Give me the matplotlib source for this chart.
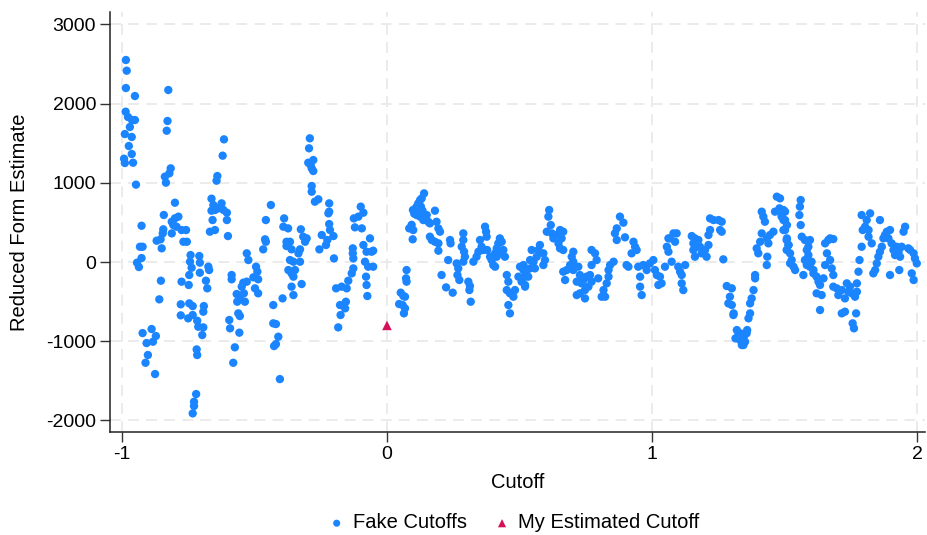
import matplotlib
matplotlib.use('Agg')
import matplotlib.pyplot as plt

# Fake cutoff placebo estimates (cutoff, reduced-form estimate)
fake_cutoffs = [
    (-0.985,2551),(-0.982,2416),(-0.985,2197),(-0.951,2096),(-0.986,1898),(-0.977,1831),(-0.962,1793),(-0.951,1793),(-0.970,1705),(-0.963,1579),(-0.989,1616),(-0.974,1465),(-0.963,1364),(-0.992,1305),(-0.989,1250),(-0.958,1254),(-0.947,977),
    (-0.926,458),(-0.932,193),(-0.922,193),(-0.926,50),(-0.943,-8),(-0.936,-63),(-0.922,-897),(-0.888,-846),(-0.907,-1023),(-0.883,-1006),(-0.872,-934),(-0.902,-1174),(-0.911,-1272),(-0.875,-1414),
    (-0.825,2172),(-0.828,1781),(-0.831,1658),(-0.816,1183),(-0.821,1120),(-0.838,1078),(-0.834,1002),(-0.800,749),(-0.842,594),(-0.844,413),(-0.846,362),(-0.854,287),(-0.869,269),(-0.850,173),
    (-0.812,509),(-0.800,552),(-0.787,573),(-0.806,467),(-0.794,446),(-0.812,362),(-0.775,404),(-0.758,404),(-0.768,256),(-0.755,256),(-0.853,-236),(-0.859,-471),
    (-0.741,88),(-0.708,76),(-0.743,4),(-0.706,-8),(-0.737,-72),(-0.706,-135),(-0.674,-59),(-0.671,-101),(-0.746,-164),(-0.775,-248),(-0.748,-290),(-0.683,-236),(-0.678,-332),
    (-0.778,-534),(-0.746,-522),(-0.733,-556),(-0.778,-673),(-0.750,-711),(-0.733,-669),(-0.716,-741),(-0.712,-817),(-0.691,-556),(-0.693,-627),(-0.693,-825),(-0.697,-922),(-0.718,-1103),(-0.716,-1174),(-0.720,-1667),(-0.728,-1764),(-0.728,-1818),(-0.733,-1911),
    (-0.615,1549),(-0.620,1343),(-0.640,1086),(-0.643,1027),(-0.662,800),(-0.655,720),(-0.649,657),(-0.662,648),(-0.624,741),(-0.637,678),(-0.617,657),(-0.604,623),(-0.604,530),(-0.600,328),(-0.658,530),(-0.668,383),(-0.649,404),
    (-0.529,110),(-0.523,25),(-0.529,-248),(-0.542,-261),(-0.586,-164),(-0.586,-218),(-0.548,-311),(-0.540,-395),(-0.567,-404),(-0.555,-459),(-0.565,-501),(-0.536,-501),(-0.561,-648),(-0.555,-682),(-0.595,-732),(-0.592,-837),(-0.557,-892),(-0.574,-1077),(-0.580,-1272),
    (-0.494,-59),(-0.489,-122),(-0.504,-193),(-0.486,-218),(-0.498,-332),(-0.486,-395),(-0.457,530),(-0.460,287),(-0.457,256),(-0.467,160),(-0.438,720),
    (-0.429,-543),(-0.429,-774),(-0.419,-783),(-0.410,-943),(-0.419,-1036),(-0.426,-1061),(-0.404,-1478),(-0.394,-459),
    (-0.388,551),(-0.391,446),(-0.373,425),(-0.379,256),(-0.366,256),(-0.360,160),(-0.379,202),(-0.366,25),(-0.353,4),(-0.372,-101),(-0.360,-143),(-0.347,-101),(-0.353,-185),(-0.360,-311),(-0.353,-417),(-0.322,-278),(-0.328,160),(-0.328,4),(-0.334,110),(-0.325,413),(-0.316,320),(-0.303,299),(-0.309,256),
    (-0.291,1562),(-0.294,1436),(-0.297,1254),(-0.288,1225),(-0.278,1288),(-0.284,1183),(-0.278,1149),(-0.284,960),(-0.284,888),(-0.272,762),(-0.259,792),
    (-0.218,741),(-0.218,636),(-0.221,615),(-0.218,480),(-0.215,404),(-0.246,341),(-0.225,278),(-0.230,215),(-0.202,328),(-0.255,160),(-0.200,46),
    (-0.192,-332),(-0.171,-311),(-0.152,-332),(-0.177,-543),(-0.155,-501),(-0.158,-585),(-0.175,-669),(-0.184,-825),
    (-0.146,-236),(-0.133,-143),(-0.127,-80),(-0.127,46),(-0.129,110),(-0.129,173),(-0.121,438),(-0.125,551),(-0.108,573),(-0.099,699),(-0.089,623),(-0.095,425),
    (-0.089,215),(-0.077,130),(-0.064,299),(-0.058,130),(-0.052,143),(-0.083,4),(-0.071,-59),(-0.052,-59),(-0.079,-185),(-0.077,-290),(-0.074,-429),
    (0.074,-101),(0.072,-206),(0.074,-248),(0.052,-387),(0.062,-429),(0.068,-438),(0.046,-530),(0.059,-543),(0.068,-585),(0.064,-648),
    (0.097,287),(0.084,425),(0.099,404),(0.106,636),(0.112,699),(0.118,741),(0.125,783),(0.131,804),(0.140,867),(0.112,593),(0.125,573),(0.137,530),(0.150,593),(0.156,509),(0.162,488),(0.181,648),(0.187,509),(0.194,425),(0.200,383),(0.162,320),(0.169,278),(0.181,256),(0.194,236),(0.194,143),(0.206,-164),
    (0.098,657),(0.103,610),(0.109,680),(0.121,720),(0.128,700),(0.134,650),(0.119,640),(0.093,470),(0.143,560),(0.131,580),
    (0.231,25),(0.238,278),(0.240,236),(0.263,-17),(0.269,-80),(0.266,-164),(0.273,-227),(0.223,-320),(0.248,-387),(0.288,362),(0.288,278),(0.282,193),(0.291,130),(0.294,67),(0.288,4),(0.307,-248),(0.313,-303),(0.311,-354),(0.316,-501),
    (0.326,4),(0.338,67),(0.345,130),(0.351,278),(0.370,446),(0.374,383),(0.376,320),(0.357,193),(0.363,152),(0.378,152),(0.389,67),(0.395,25),(0.401,-38),(0.408,110),(0.414,173),(0.420,236),(0.426,299),(0.433,256),(0.439,152),(0.445,67),(0.433,110),(0.414,67),(0.408,-59),
    (0.452,-164),(0.458,-248),(0.452,-354),(0.464,-395),(0.477,-438),(0.458,-543),(0.464,-648),(0.483,-354),(0.496,-185),(0.502,-59),(0.515,-38),(0.527,-101),(0.533,-185),(0.521,-311),
    (0.515,-101),(0.521,-185),(0.521,-290),(0.508,-248),(0.546,152),(0.540,25),(0.553,4),(0.565,67),(0.571,152),(0.577,215),(0.590,110),(0.596,25),(0.590,-38),(0.558,-80),(0.540,-80),
    (0.612,657),(0.609,573),(0.618,467),(0.603,383),(0.622,362),(0.628,299),(0.640,341),(0.653,404),(0.665,383),(0.659,299),(0.647,236),(0.653,173),(0.665,152),
    (0.703,130),(0.697,67),(0.703,4),(0.691,-38),(0.678,-101),(0.665,-122),(0.672,-227),(0.703,-101),(0.722,-59),(0.728,-164),(0.716,-248),(0.734,-269),(0.741,-227),(0.753,-185),(0.766,-164),(0.772,-248),(0.760,-311),(0.747,-354),(0.728,-395),(0.716,-417),(0.747,-459),(0.772,152),(0.785,110),(0.791,25),(0.772,-38),(0.797,-206),
    (0.810,-438),(0.823,-438),(0.817,-354),(0.829,-269),(0.836,-185),(0.836,-101),(0.842,-38),(0.855,4),(0.879,573),(0.892,497),(0.867,425),(0.860,362),(0.867,278),(0.898,312),(0.904,-38),(0.911,-59),(0.923,110),(0.930,256),(0.936,193),(0.942,152),
    (0.948,-59),(0.955,-185),(0.955,-311),(0.961,-417),(0.967,-38),(0.980,-101),(0.992,-17),(1.005,25),(1.011,-101),(1.018,-164),(1.030,-185),(1.024,-290),(1.036,-269),(1.049,-59),(1.062,299),(1.056,193),(1.062,130),
    (1.068,299),(1.081,362),(1.093,362),(1.087,256),(1.074,4),(1.099,-59),(1.106,-122),(1.112,-164),(1.125,-38),(1.112,-269),(1.118,-354),
    (1.150,328),(1.156,236),(1.162,299),(1.175,278),(1.169,193),(1.156,152),(1.181,193),(1.187,110),(1.200,152),(1.213,215),(1.162,67),(1.206,67),(1.213,341),(1.219,404),(1.219,551),(1.232,530),(1.251,530),(1.263,509),(1.257,404),(1.263,383),(1.269,34),
    (1.282,-303),(1.301,-332),(1.294,-438),(1.288,-522),(1.301,-543),(1.308,-648),(1.320,-859),(1.315,-964),(1.334,-901),(1.346,-943),(1.359,-859),(1.339,-1048),(1.351,-1006),(1.364,-711),(1.370,-648),(1.370,-522),(1.376,-459),(1.383,-354),(1.389,-164),(1.389,-206),
    (1.332,-985),(1.345,-1048),(1.326,-920),(1.340,-960),(1.307,-669),(1.357,-900),
    (1.395,173),(1.401,110),(1.408,256),(1.414,362),(1.420,573),(1.414,636),(1.426,509),(1.433,299),(1.439,236),(1.435,67),(1.433,-38),(1.445,341),(1.458,383),(1.464,636),(1.471,825),(1.481,678),(1.490,593),(1.502,636),(1.496,530),(1.509,467),(1.502,404),(1.509,299),(1.515,215),
    (1.483,804),(1.496,657),(1.502,530),(1.489,573),(1.496,404),(1.508,278),(1.515,215),(1.508,152),(1.521,110),(1.527,25),(1.534,-59),(1.540,-101),(1.521,-17),
    (1.561,783),(1.558,699),(1.556,593),(1.561,467),(1.565,320),(1.577,278),(1.596,278),(1.584,152),(1.590,88),(1.577,25),(1.584,-38),(1.596,-59),(1.609,-101),(1.571,-164),(1.602,4),(1.590,193),
    (1.609,-143),(1.621,-185),(1.628,-248),(1.634,-290),(1.621,-395),(1.640,-417),(1.634,-606),(1.647,-206),(1.653,-38),(1.660,110),(1.653,236),(1.665,278),(1.672,299),(1.684,290),(1.672,25),(1.678,-80),(1.684,-164),
    (1.684,-311),(1.697,-332),(1.703,-417),(1.716,-354),(1.728,-459),(1.735,-269),(1.747,-311),(1.741,-375),(1.754,-395),(1.773,-269),(1.773,-375),(1.779,-122),(1.783,25),(1.766,-438),(1.716,-648),(1.728,-627),(1.770,-648),(1.757,-774),(1.762,-837),
    (1.791,193),(1.795,404),(1.791,593),(1.804,446),(1.810,530),(1.823,615),(1.817,404),(1.817,320),(1.829,236),(1.860,530),(1.842,-101),(1.835,-143),
    (1.848,-17),(1.854,67),(1.860,130),(1.867,193),(1.873,299),(1.879,341),(1.886,383),(1.898,404),(1.892,299),(1.904,236),(1.911,152),(1.917,88),(1.923,193),(1.930,130),(1.936,67),(1.942,193),(1.955,446),(1.949,383),(1.898,-164),(1.933,-101),(1.967,173),(1.974,152),(1.987,110),(1.992,46),(1.999,-17),(1.980,-143),(1.987,-227),
]
fake_x = [p[0] for p in fake_cutoffs]
fake_y = [p[1] for p in fake_cutoffs]

est_x = [0.0]
est_y = [-800]

x_ticks = [-1, 0, 1, 2]
y_ticks = [-2000, -1000, 0, 1000, 2000, 3000]

plt.rcParams['font.family'] = ['Liberation Sans', 'DejaVu Sans']

fig = plt.figure(figsize=(9.27, 5.35), dpi=100)
ax = fig.add_axes([110/927, 103/535, 815/927, 420/535])

grid_kw = dict(color='#e9e9e9', linewidth=1.3, linestyle=(0, (6, 4)), zorder=0)
for t in x_ticks:
    ax.axvline(t, **grid_kw)
for t in y_ticks:
    ax.axhline(t, **grid_kw)

blue = '#1a85ff'
red = '#d41159'
ax.scatter(fake_x, fake_y, s=36, color=blue, edgecolors='none', zorder=3, label='Fake Cutoffs')
ax.scatter(est_x, est_y, s=48, marker='^', color=red, edgecolors='none', zorder=4, label='My Estimated Cutoff')

ax.set_xlim(-1.045, 2.03)
ax.set_ylim(-2146, 3157)
ax.set_xticks(x_ticks)
ax.set_xticklabels(['-1', '0', '1', '2'])
ax.set_yticks(y_ticks)
ax.set_yticklabels([str(t) for t in y_ticks])
ax.tick_params(axis='both', direction='out', length=7, width=1, labelsize=14, color='#333333', pad=3)

for s in ['top', 'right']:
    ax.spines[s].set_visible(False)
for s in ['left', 'bottom']:
    ax.spines[s].set_color('#222222')
    ax.spines[s].set_linewidth(1.1)

ax.set_xlabel('Cutoff', fontsize=14.5, labelpad=7)
ax.set_ylabel('Reduced Form Estimate', fontsize=14.5, labelpad=12)

fig.legend(loc='center', bbox_to_anchor=(513/927, 1 - 523/535), ncol=2, frameon=False,
           fontsize=14.5, handlelength=1.0, handletextpad=0.3, columnspacing=1.25,
           markerscale=0.85)

fig.savefig('out.png', dpi=100)
